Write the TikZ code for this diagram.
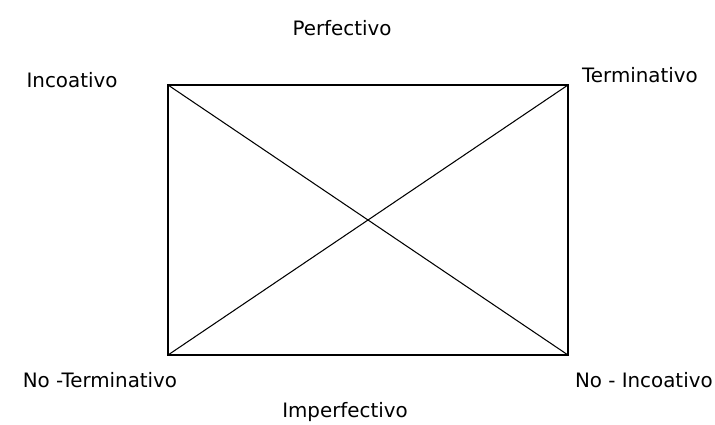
\documentclass[tikz,border=0pt]{standalone}
\usepackage{fontspec}
\setmainfont{DejaVu Sans}
\usepackage{tikz}
\usetikzlibrary{positioning}

\begin{document}
\begin{tikzpicture}[x = .02cm, y = .02cm, font = \fontsize{11.3}{13}\selectfont]
\useasboundingbox (0,0) rectangle (715,424);
\coordinate (tl) at (168,339);
\coordinate (tr) at (568,339);
\coordinate (bl) at (168,69);
\coordinate (br) at (568,69);
\draw[line width = .6pt] (tl) -- (tr) -- (br) -- (bl) -- cycle;
\draw[line width = .6pt] (tl) -- (br);
\draw[line width = .6pt] (bl) -- (tr);
\node (perf) at (342,396) {Perfectivo};
\node (inc) at (72,344) {Incoativo};
\node (term) at (640,349) {Terminativo};
\node (noterm) at (100,44) {No -Terminativo};
\node[anchor = east, inner sep = 0pt] (noinc) at (713,44) {No - Incoativo};
\node (imperf) at (345,12) {Imperfectivo};
\end{tikzpicture}
\end{document}
